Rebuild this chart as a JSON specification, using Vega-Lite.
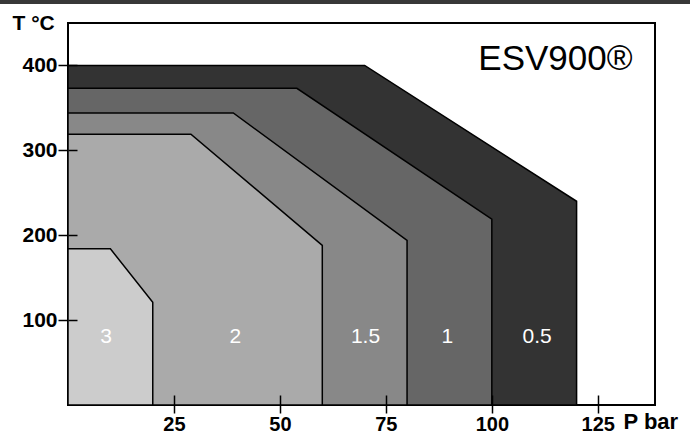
{
  "$schema": "https://vega.github.io/schema/vega-lite/v6.json",
  "width": 587,
  "height": 382,
  "autosize": {"type": "none"},
  "padding": {"left": 68, "top": 23, "right": 35, "bottom": 30},
  "background": "white",
  "config": {
    "view": {"stroke": "black", "strokeWidth": 2},
    "font": "Liberation Sans"
  },
  "datasets": {
    "regions": [
      {"rating": "0.5", "P": 0, "T": 400},
      {"rating": "0.5", "P": 70, "T": 400},
      {"rating": "0.5", "P": 120, "T": 240},
      {"rating": "1", "P": 0, "T": 373},
      {"rating": "1", "P": 54, "T": 373},
      {"rating": "1", "P": 100, "T": 219},
      {"rating": "1.5", "P": 0, "T": 344},
      {"rating": "1.5", "P": 39, "T": 344},
      {"rating": "1.5", "P": 80, "T": 194},
      {"rating": "2", "P": 0, "T": 319},
      {"rating": "2", "P": 29, "T": 319},
      {"rating": "2", "P": 60, "T": 188},
      {"rating": "3", "P": 0, "T": 184},
      {"rating": "3", "P": 10, "T": 184},
      {"rating": "3", "P": 20, "T": 121}
    ],
    "labels": [
      {"label": "3", "P": 9, "T": 80},
      {"label": "2", "P": 39.5, "T": 80},
      {"label": "1.5", "P": 70.2, "T": 80},
      {"label": "1", "P": 89.5, "T": 80},
      {"label": "0.5", "P": 110.7, "T": 80}
    ]
  },
  "resolve": {"axis": {"x": "independent", "y": "independent"}},
  "layer": [
    {
      "data": {"name": "regions"},
      "mark": {"type": "area", "stroke": "black", "strokeWidth": 1.5, "strokeJoin": "miter", "opacity": 1},
      "encoding": {
        "x": {
          "field": "P", "type": "quantitative",
          "scale": {"domain": [0, 138.5], "nice": false, "zero": false},
          "axis": {
            "orient": "bottom", "values": [25, 50, 75, 100, 125], "tickSize": 8, "tickColor": "black", "tickWidth": 1.5,
            "domain": false, "grid": false, "labelFontWeight": "bold", "labelFontSize": 20, "labelColor": "black",
            "labelPadding": 1, "labelFlush": false,
            "title": "P bar", "titleFontSize": 22, "titleFontWeight": "bold", "titleColor": "black",
            "titleAlign": "left", "titleBaseline": "alphabetic", "titleX": 555, "titleY": 23
          }
        },
        "y": {
          "field": "T", "type": "quantitative", "stack": null,
          "scale": {"domain": [0, 450], "nice": false},
          "axis": {
            "orient": "left", "values": [100, 200, 300, 400], "tickSize": 10, "tickColor": "black", "tickWidth": 1.5,
            "domain": false, "grid": false, "labelFontWeight": "bold", "labelFontSize": 21, "labelColor": "black",
            "labelPadding": 1, "labelFlush": false,
            "title": "T °C", "titleFontSize": 21, "titleFontWeight": "bold", "titleColor": "black", "titleAngle": 0,
            "titleAlign": "left", "titleBaseline": "alphabetic", "titleX": -56, "titleY": 6
          }
        },
        "y2": {"datum": 0},
        "color": {
          "field": "rating", "type": "nominal",
          "scale": {"domain": ["0.5", "1", "1.5", "2", "3"], "range": ["#333333", "#666666", "#888888", "#aaaaaa", "#cccccc"]},
          "legend": null
        }
      }
    },
    {
      "data": {"name": "labels"},
      "mark": {"type": "text", "fill": "white", "fontSize": 21, "align": "center", "baseline": "middle"},
      "encoding": {
        "x": {
          "field": "P", "type": "quantitative",
          "axis": {"orient": "bottom", "values": [25, 50, 75, 100, 125], "tickSize": -10, "tickColor": "black", "tickWidth": 1.5,
            "domain": false, "grid": false, "labels": false, "title": null, "zindex": 1}
        },
        "y": {
          "field": "T", "type": "quantitative",
          "axis": {"orient": "left", "values": [100, 200, 300, 400], "tickSize": -9, "tickColor": "black", "tickWidth": 1.5,
            "domain": false, "grid": false, "labels": false, "title": null, "zindex": 1}
        },
        "text": {"field": "label"}
      }
    },
    {
      "data": {"values": [{}]},
      "mark": {"type": "text", "text": "ESV900®", "fontSize": 35, "fill": "black", "align": "right", "baseline": "alphabetic"},
      "encoding": {
        "x": {"datum": 133.2, "type": "quantitative", "axis": null},
        "y": {"datum": 394.6, "type": "quantitative", "axis": null}
      }
    },
    {
      "data": {"values": [{}]},
      "mark": {"type": "rect", "fill": "#383838", "clip": false},
      "encoding": {
        "x": {"datum": -17, "type": "quantitative", "axis": null},
        "x2": {"datum": 148},
        "y": {"datum": 472.5, "type": "quantitative", "axis": null},
        "y2": {"datum": 480}
      }
    }
  ]
}
